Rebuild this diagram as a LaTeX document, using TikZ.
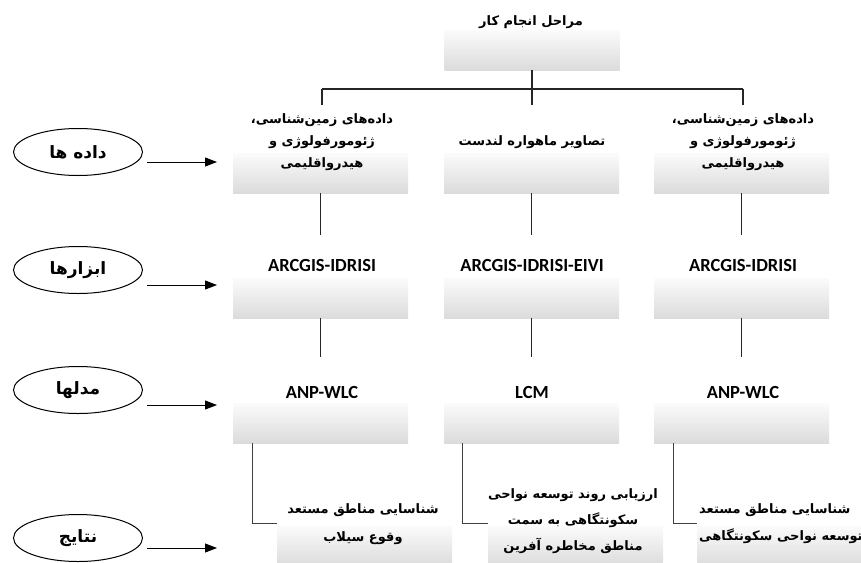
\documentclass[tikz,border=0pt]{standalone}
\usepackage{fontspec}
\usetikzlibrary{shapes.geometric,arrows.meta}
\TeXXeTstate=1
\newfontfamily\farsi[Script=Arabic]{DejaVu Sans}
\newfontfamily\carlito{Carlito}
\newcommand\myfa[1]{\beginR #1\endR}
\begin{document}
\begin{tikzpicture}[x=1pt,y=-1pt,
 gbox/.style={rectangle, draw=none, minimum width=175pt, minimum height=40pt, inner sep=0pt, top color=gray!3, bottom color=gray!28},
 oval/.style={ellipse, draw=black, line width=1pt, minimum width=129pt, minimum height=47pt, inner sep=0pt, font=\farsi\bfseries\fontsize{17}{18}\selectfont},
 ftxt/.style={inner sep=0pt, align=center, font=\farsi\bfseries\fontsize{13}{22}\selectfont},
 ltxt/.style={inner sep=0pt, font=\carlito\bfseries\fontsize{18.5}{20}\selectfont},
 conn/.style={line width=1.3pt, black!85},
 rconn/.style={line width=0.9pt, black!75},
 arr/.style={line width=0.9pt, -{Triangle[length=12pt,width=9pt]}}
]
\useasboundingbox (0,0) rectangle (861,562);
% top
\node[gbox] (top) at (532,50) {};
\node[ftxt] (ttop) at (531,22) {\myfa{مراحل انجام کار}};
% row 1
\node[gbox] (b11) at (320.5,173) {};
\node[gbox] (b12) at (531.5,173) {};
\node[gbox] (b13) at (741.5,173) {};
\node[ftxt] (t11) at (322,142) {\myfa{داده‌های زمین‌شناسی،}\\\myfa{ژئومورفولوژی و}\\\myfa{هیدرواقلیمی}};
\node[ftxt] (t12) at (532,142) {\myfa{تصاویر ماهواره لندست}};
\node[ftxt] (t13) at (743,142) {\myfa{داده‌های زمین‌شناسی،}\\\myfa{ژئومورفولوژی و}\\\myfa{هیدرواقلیمی}};
% row 2
\node[gbox] (b21) at (320.5,298) {};
\node[gbox] (b22) at (531.5,298) {};
\node[gbox] (b23) at (741.5,298) {};
\node[ltxt] (t21) at (322,265) {ARCGIS-IDRISI};
\node[ltxt] (t22) at (532,265) {ARCGIS-IDRISI-EIVI};
\node[ltxt] (t23) at (743,265) {ARCGIS-IDRISI};
% row 3
\node[gbox] (b31) at (320.5,423) {};
\node[gbox] (b32) at (531.5,423) {};
\node[gbox] (b33) at (741.5,423) {};
\node[ltxt] (t31) at (322,392) {ANP-WLC};
\node[ltxt] (t32) at (532,392) {LCM};
\node[ltxt] (t33) at (743,392) {ANP-WLC};
% row 4
\node[gbox] (b41) at (364.5,546) {};
\node[gbox] (b42) at (575.5,546) {};
\node[gbox] (b43) at (784.5,546) {};
\node[ftxt, font=\farsi\bfseries\fontsize{13}{28}\selectfont] (t41) at (363,524) {\myfa{شناسایی مناطق مستعد}\\\myfa{وقوع سیلاب}};
\node[ftxt, font=\farsi\bfseries\fontsize{13}{26}\selectfont] (t42) at (573,521) {\myfa{ارزیابی روند توسعه نواحی}\\\myfa{سکونتگاهی به سمت}\\\myfa{مناطق مخاطره آفرین}};
\node[ftxt, align=left, anchor=west, font=\farsi\bfseries\fontsize{13}{27}\selectfont] (t43) at (699,523.5) {\myfa{شناسایی مناطق مستعد}\\\myfa{توسعه نواحی سکونتگاهی}};
% ellipses
\node[oval] (e1) at (78,152) {\myfa{داده ها}};
\node[oval] (e2) at (78,270) {\myfa{ابزارها}};
\node[oval] (e3) at (78,390) {\myfa{مدلها}};
\node[oval] (e4) at (78,538) {\myfa{نتایج}};
% arrows
\coordinate (a1s) at (147,162); \coordinate (a1e) at (217,162);
\coordinate (a2s) at (147,285); \coordinate (a2e) at (217,285);
\coordinate (a3s) at (147,405); \coordinate (a3e) at (217,405);
\coordinate (a4s) at (147,548); \coordinate (a4e) at (217,548);
\draw[arr] (a1s) -- (a1e);
\draw[arr] (a2s) -- (a2e);
\draw[arr] (a3s) -- (a3e);
\draw[arr] (a4s) -- (a4e);
% top connectors
\coordinate (j1) at (322,89); \coordinate (j2) at (532,89); \coordinate (j3) at (743,89);
\coordinate (d1) at (322,105); \coordinate (d2) at (532,105); \coordinate (d3) at (743,105);
\draw[conn] (top.south) -- (j2) -- (d2);
\draw[conn] (j1) -- (j3);
\draw[conn] (j1) -- (d1);
\draw[conn] (j3) -- (d3);
% row connectors
\coordinate (u2) at (0,235);
\coordinate (u3) at (0,357);
\draw[conn] (b11.south) -- (b11.south |- u2);
\draw[conn] (b12.south) -- (b12.south |- u2);
\draw[conn] (b13.south) -- (b13.south |- u2);
\draw[conn] (b21.south) -- (b21.south |- u3);
\draw[conn] (b22.south) -- (b22.south |- u3);
\draw[conn] (b23.south) -- (b23.south |- u3);
% result connectors
\coordinate (c1) at (252,443); \coordinate (k1) at (252,523);
\coordinate (c2) at (462,443); \coordinate (k2) at (462,523);
\coordinate (c3) at (673,443); \coordinate (k3) at (673,523);
\draw[rconn] (c1) -- (k1) -- (b41.west |- k1);
\draw[rconn] (c2) -- (k2) -- (b42.west |- k2);
\draw[rconn] (c3) -- (k3) -- (b43.west |- k3);
\end{tikzpicture}
\end{document}
